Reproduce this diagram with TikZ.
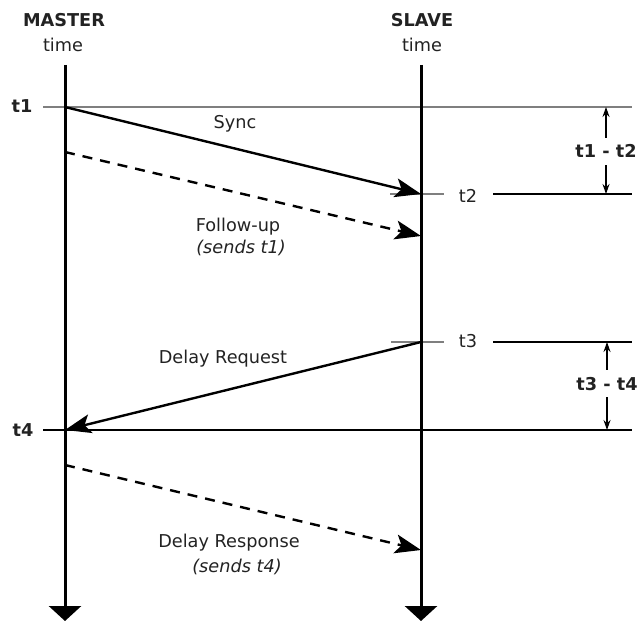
\documentclass[tikz,border=0pt]{standalone}
\usepackage{fontspec}
\setmainfont{DejaVu Sans}
\usepackage{tikz}
\usetikzlibrary{arrows.meta,positioning}
\definecolor{colorref}{HTML}{7F7F7F}
\definecolor{colortxt}{HTML}{222222}
\tikzset{
  edgetime/.style={black, line width=3bp, -{Triangle[length=15bp,width=32bp]}},
  edgemsg/.style={black, line width=2.4bp, -{Stealth[length=26bp,width=19bp,inset=6bp]}},
  edgefup/.style={edgemsg, dash pattern=on 10bp off 8bp},
  edgedim/.style={black, line width=1.1bp, -{Stealth[length=10bp,width=7bp]}},
  refgray/.style={colorref, line width=1.4bp},
  refblack/.style={black, line width=1.1bp},
  lbl/.style={colortxt, anchor=base, inner sep=0pt, font=\fontsize{17.7bp}{20bp}\selectfont},
  lblb/.style={lbl, font=\fontsize{17.7bp}{20bp}\selectfont\bfseries},
  lbli/.style={lbl, font=\fontsize{17.7bp}{20bp}\selectfont\itshape}
}

\begin{document}
\begin{tikzpicture}[x=1bp, y=-1bp]
\useasboundingbox (0,0) rectangle (642,622);
% headings
\node[lblb] (master) at (64,27) {MASTER};
\node[lbl] (mtime) at (63,52) {time};
\node[lblb] (slave) at (422,27) {SLAVE};
\node[lbl] (stime) at (422,52) {time};
% time axes
\coordinate (mtop) at (65,65);
\coordinate (mend) at (65,621);
\coordinate (sltop) at (421,65);
\coordinate (slend) at (421,621);
% event points
\coordinate (t1) at (65,107);
\coordinate (t2) at (421,194);
\coordinate (f1) at (65,152);
\coordinate (f2) at (421,236);
\coordinate (t3) at (421,342);
\coordinate (t4) at (65,430);
\coordinate (r1) at (65,465);
\coordinate (r2) at (421,550);
% reference lines
\coordinate (t1l) at (43,107);
\coordinate (t1r) at (632,107);
\coordinate (t4l) at (43,430);
\coordinate (t4r) at (632,430);
\coordinate (t2a) at (390,194);
\coordinate (t2b) at (444,194);
\coordinate (t2l) at (493,194);
\coordinate (t2r) at (632,194);
\coordinate (t3a) at (391,342);
\coordinate (t3b) at (444,342);
\coordinate (t3l) at (493,342);
\coordinate (t3r) at (632,342);
\draw[refgray] (t1l) -- (t1r);
\draw[refblack] (t4l) -- (t4r);
\draw[refgray] (t2a) -- (t2b);
\draw[refblack] (t2l) -- (t2r);
\draw[refgray] (t3a) -- (t3b);
\draw[refblack] (t3l) -- (t3r);
\draw[edgetime] (mtop) -- (mend);
\draw[edgetime] (sltop) -- (slend);
% time labels
\node[lblb] (lt1) at (22,113) {t1};
\node[lblb] (lt4) at (23,436) {t4};
\node[lbl] (lt2) at (468,202) {t2};
\node[lbl] (lt3) at (468,347) {t3};
% messages
\draw[edgemsg] (t1) -- (t2);
\draw[edgefup] (f1) -- (f2);
\draw[edgemsg] (t3) -- (t4);
\draw[edgefup] (r1) -- (r2);
\node[lbl] (sync) at (235,129) {Sync};
\node[lbl] (fup) at (238,231) {Follow-up};
\node[lbli] (fupnote) at (241,253) {(sends t1)};
\node[lbl] (dreq) at (223,363) {Delay Request};
\node[lbl] (dresp) at (229,547) {Delay Response};
\node[lbli] (drespnote) at (237,572) {(sends t4)};
% differences
\node[lblb, inner ysep=7bp] (d12) at (606,158) {t1 - t2};
\node[lblb, inner ysep=7bp] (d34) at (607,390) {t3 - t4};
\draw[edgedim] (d12.north) -- (d12.north |- t1r);
\draw[edgedim] (d12.south) -- (d12.south |- t2r);
\draw[edgedim] (d34.north) -- (d34.north |- t3r);
\draw[edgedim] (d34.south) -- (d34.south |- t4r);
\end{tikzpicture}
\end{document}
